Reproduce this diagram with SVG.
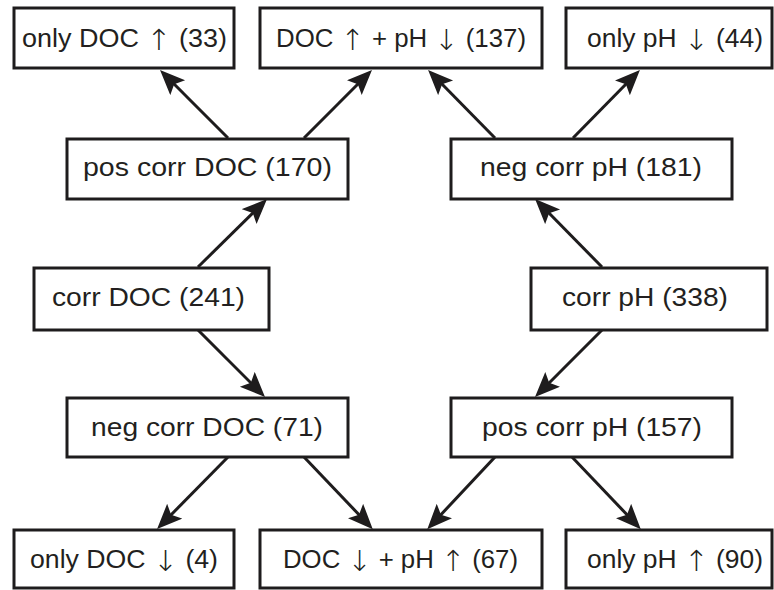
<svg xmlns="http://www.w3.org/2000/svg" width="774" height="590" viewBox="0 0 774 590">
<defs>
<style>
.box{fill:#fff;stroke:#1e1c1d;stroke-width:3}
.t{font-family:"Liberation Sans",Arial,sans-serif;font-size:26px;fill:#231f20}
.a{font-family:"DejaVu Sans",sans-serif;font-size:29px;font-weight:200}
.c line{stroke:#1e1c1d;stroke-width:3;marker-end:url(#ah)}
</style>
<marker id="ah" markerUnits="userSpaceOnUse" markerWidth="26" markerHeight="22" refX="14" refY="10.5" orient="auto" viewBox="0 0 26 22">
<path d="M0,0 L25,10.5 L0,21 L5,10.5 z" fill="#1e1c1d"/>
</marker>
</defs>
<rect width="774" height="590" fill="#fff"/>
<g id="connectors" class="c">
<line x1="228" y1="138" x2="167.8" y2="77.8"/>
<line x1="304" y1="138" x2="364.2" y2="77.8"/>
<line x1="495" y1="138" x2="435.8" y2="77.8"/>
<line x1="573" y1="138" x2="632.2" y2="77.8"/>
<line x1="198" y1="267" x2="259.2" y2="206.8"/>
<line x1="198" y1="330" x2="257.2" y2="389.2"/>
<line x1="602" y1="267" x2="542.8" y2="206.8"/>
<line x1="602" y1="330" x2="542.8" y2="389.2"/>
<line x1="228" y1="457" x2="164.8" y2="521.2"/>
<line x1="304" y1="457" x2="365.2" y2="521.2"/>
<line x1="495" y1="457" x2="434.8" y2="521.2"/>
<line x1="572" y1="457" x2="633.2" y2="521.2"/>
</g>
<g id="only-doc-up"><rect class="box" x="14" y="8" width="220" height="60"/><text class="t" x="22" y="47" textLength="205" lengthAdjust="spacingAndGlyphs">only DOC <tspan class="a" dy="3">↑</tspan><tspan dy="-3"> (33)</tspan></text></g>
<g id="doc-up-ph-down"><rect class="box" x="260" y="8" width="282" height="60"/><text class="t" x="276" y="47" textLength="250" lengthAdjust="spacingAndGlyphs">DOC <tspan class="a" dy="3">↑</tspan><tspan dy="-3"> + pH </tspan><tspan class="a" dy="3">↓</tspan><tspan dy="-3"> (137)</tspan></text></g>
<g id="only-ph-down"><rect class="box" x="566" y="8" width="206" height="60"/><text class="t" x="587" y="47" textLength="176" lengthAdjust="spacingAndGlyphs">only pH <tspan class="a" dy="3">↓</tspan><tspan dy="-3"> (44)</tspan></text></g>
<g id="pos-corr-doc"><rect class="box" x="67" y="139" width="281" height="60"/><text class="t" x="83" y="176" textLength="249" lengthAdjust="spacingAndGlyphs">pos corr DOC (170)</text></g>
<g id="neg-corr-ph"><rect class="box" x="451" y="139" width="281" height="60"/><text class="t" x="480" y="176" textLength="222" lengthAdjust="spacingAndGlyphs">neg corr pH (181)</text></g>
<g id="corr-doc"><rect class="box" x="34" y="268" width="235" height="62"/><text class="t" x="52" y="306" textLength="193" lengthAdjust="spacingAndGlyphs">corr DOC (241)</text></g>
<g id="corr-ph"><rect class="box" x="531" y="268" width="236" height="62"/><text class="t" x="562" y="306" textLength="166" lengthAdjust="spacingAndGlyphs">corr pH (338)</text></g>
<g id="neg-corr-doc"><rect class="box" x="67" y="398" width="281" height="59"/><text class="t" x="91" y="436" textLength="232" lengthAdjust="spacingAndGlyphs">neg corr DOC (71)</text></g>
<g id="pos-corr-ph"><rect class="box" x="451" y="398" width="281" height="59"/><text class="t" x="482" y="436" textLength="220" lengthAdjust="spacingAndGlyphs">pos corr pH (157)</text></g>
<g id="only-doc-down"><rect class="box" x="14" y="530" width="220" height="58"/><text class="t" x="30" y="568" textLength="188" lengthAdjust="spacingAndGlyphs">only DOC <tspan class="a" dy="3">↓</tspan><tspan dy="-3"> (4)</tspan></text></g>
<g id="doc-down-ph-up"><rect class="box" x="260" y="530" width="282" height="58"/><text class="t" x="283" y="568" textLength="235" lengthAdjust="spacingAndGlyphs">DOC <tspan class="a" dy="3">↓</tspan><tspan dy="-3"> + pH </tspan><tspan class="a" dy="3">↑</tspan><tspan dy="-3"> (67)</tspan></text></g>
<g id="only-ph-up"><rect class="box" x="566" y="530" width="206" height="58"/><text class="t" x="587" y="568" textLength="176" lengthAdjust="spacingAndGlyphs">only pH <tspan class="a" dy="3">↑</tspan><tspan dy="-3"> (90)</tspan></text></g>
</svg>
